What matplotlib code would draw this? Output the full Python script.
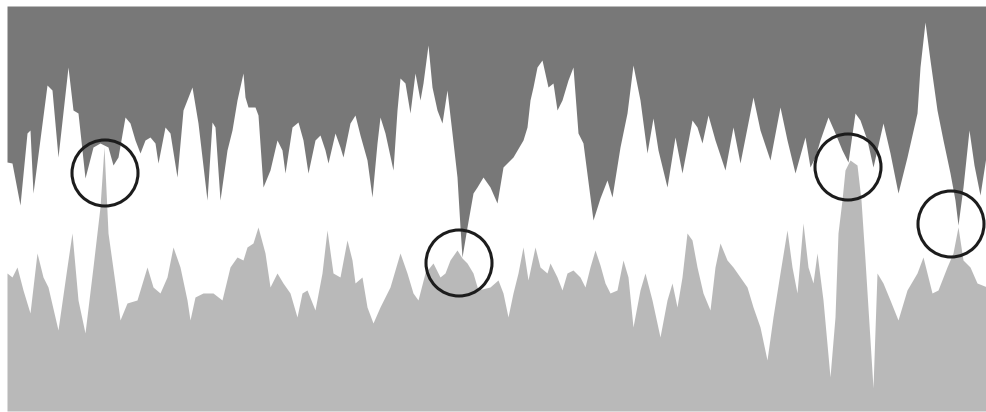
import matplotlib
matplotlib.use("Agg")
from matplotlib import pyplot as plt
from matplotlib.patches import Circle

# sample positions and band edges (rows measured from the top of the picture)
upper_x = [7, 12, 20, 27, 30, 33, 47, 52, 58, 68, 73, 78, 85, 93, 100, 104, 108, 113, 118,
           125, 130, 135, 140, 145, 150, 155, 158, 165, 170, 177, 183, 192, 198, 207, 212, 215,
           220, 227, 232, 237, 243, 245, 248, 255, 258, 263, 270, 277, 282, 285, 292, 298, 303,
           308, 315, 320, 325, 328, 335, 340, 343, 350, 355, 360, 367, 372, 377, 380, 385, 393,
           397, 400, 405, 410, 415, 420, 423, 428, 432, 437, 442, 447, 452, 457, 460, 462, 467,
           473, 477, 483, 490, 497, 503, 513, 523, 527, 530, 533, 537, 542, 548, 553, 557, 562,
           568, 573, 578, 583, 593, 600, 607, 612, 620, 627, 633, 640, 647, 653, 658, 667, 675,
           682, 692, 697, 702, 708, 715, 725, 733, 740, 753, 760, 770, 780, 787, 795, 805, 810,
           815, 820, 828, 835, 842, 848, 855, 860, 867, 873, 883, 890, 898, 907, 917, 920, 925,
           930, 937, 943, 950, 955, 958, 963, 969, 974, 980, 987]
upper_edge = [162, 163, 205, 133, 130, 193, 85, 90, 157, 67, 110, 113, 178, 147, 143, 145, 147, 165, 157,
              117, 123, 140, 153, 140, 137, 143, 163, 127, 133, 177, 110, 87, 123, 200, 122, 127,
              200, 150, 130, 100, 73, 97, 107, 107, 115, 187, 170, 140, 150, 173, 127, 122, 140,
              173, 140, 135, 150, 163, 133, 147, 157, 123, 115, 135, 160, 197, 143, 117, 133, 170,
              110, 78, 83, 113, 73, 100, 83, 45, 87, 110, 123, 90, 133, 177, 227, 257, 227,
              193, 187, 177, 187, 203, 167, 157, 140, 127, 100, 87, 67, 60, 87, 83, 110, 100,
              80, 67, 133, 143, 220, 198, 180, 197, 147, 113, 65, 100, 153, 118, 150, 187, 137,
              173, 120, 127, 143, 115, 140, 170, 127, 163, 97, 130, 160, 107, 140, 173, 137, 167,
              157, 140, 117, 133, 150, 162, 113, 120, 140, 167, 123, 153, 193, 157, 113, 67, 22,
              60, 110, 140, 173, 200, 225, 187, 130, 165, 195, 150]

lower_x = [7, 12, 17, 23, 30, 37, 43, 48, 58, 67, 72, 78, 85, 93, 100, 104, 108, 115, 120,
           127, 137, 147, 153, 160, 167, 173, 180, 187, 190, 195, 203, 213, 222, 230, 237, 243,
           247, 253, 258, 265, 270, 277, 283, 290, 297, 302, 307, 315, 322, 327, 333, 340, 347,
           352, 355, 362, 367, 373, 380, 390, 400, 407, 413, 418, 425, 433, 440, 445, 450, 457,
           462, 467, 473, 478, 490, 498, 503, 508, 513, 518, 523, 528, 535, 540, 547, 550, 557,
           562, 567, 573, 580, 585, 590, 595, 600, 605, 610, 617, 623, 628, 633, 640, 645, 652,
           660, 667, 672, 677, 682, 687, 692, 697, 703, 710, 715, 720, 727, 733, 740, 747, 753,
           760, 767, 773, 780, 787, 792, 797, 803, 808, 813, 817, 823, 830, 835, 838, 842, 845,
           850, 857, 861, 865, 870, 873, 877, 883, 890, 898, 907, 917, 923, 932, 938, 947, 953,
           958, 963, 970, 977, 987]
lower_edge = [273, 277, 267, 290, 313, 253, 277, 287, 330, 267, 233, 300, 333, 267, 207, 147, 233, 283, 320,
              303, 300, 267, 287, 293, 277, 247, 267, 300, 320, 297, 293, 293, 300, 267, 257, 260,
              247, 243, 227, 253, 287, 273, 283, 293, 317, 293, 290, 310, 273, 230, 273, 277, 240,
              260, 283, 277, 307, 323, 307, 287, 253, 273, 293, 300, 273, 263, 277, 273, 260, 250,
              258, 263, 273, 290, 287, 280, 293, 317, 293, 273, 247, 280, 247, 267, 273, 263, 277,
              290, 273, 270, 277, 287, 267, 250, 265, 283, 293, 290, 260, 277, 327, 290, 273, 300,
              337, 300, 283, 307, 277, 233, 240, 267, 293, 310, 267, 243, 260, 267, 277, 287, 307,
              327, 360, 317, 273, 230, 267, 293, 223, 267, 283, 253, 300, 377, 317, 233, 200, 170,
              160, 165, 200, 260, 340, 388, 273, 283, 300, 320, 290, 273, 257, 293, 290, 267, 253,
              227, 260, 267, 283, 287]

# highlighted spots where the two bands meet
ring_x = [105, 459, 848, 951]
ring_y = [173, 263, 167, 224]

TOP, BOTTOM = 6, 411
DARK = '#787878'
LIGHT = '#b9b9b9'

fig = plt.figure(figsize=(9.87, 4.12), dpi=100)
ax = fig.add_axes([7 / 987, 1 - BOTTOM / 412, 980 / 987, (BOTTOM - TOP) / 412])
ax.fill_between(upper_x, TOP, upper_edge, color=DARK, linewidth=0)
ax.fill_between(lower_x, lower_edge, BOTTOM, color=LIGHT, linewidth=0)

for cx, cy in zip(ring_x, ring_y):
    ax.add_patch(Circle((cx, cy), 33, fill=False, edgecolor='#1c1c1c', linewidth=2.2))

ax.set_xlim(7, 987)
ax.set_ylim(BOTTOM, TOP)
ax.set_aspect('auto')
ax.axis('off')

fig.savefig('out.png', dpi=100, facecolor='white')
